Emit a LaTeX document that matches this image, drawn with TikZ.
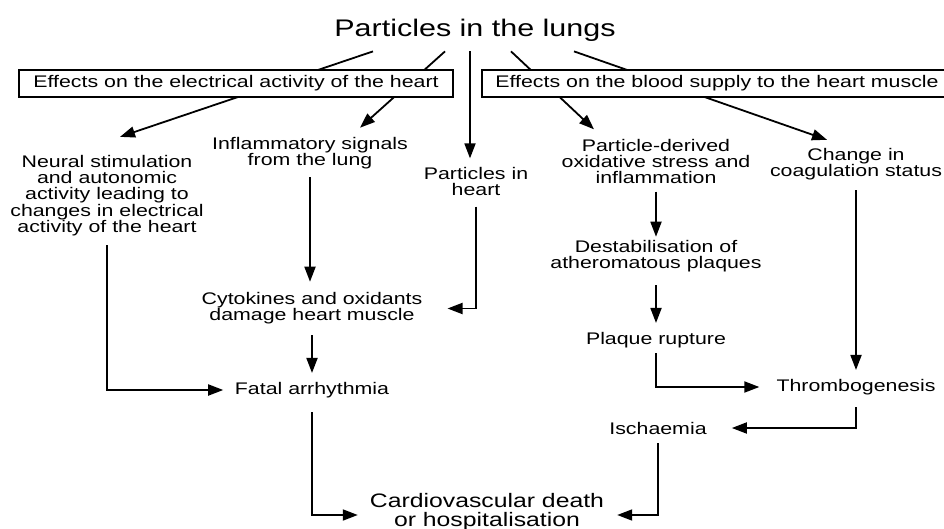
\documentclass[tikz,border=0pt]{standalone}
\usepackage{fontspec}
\setmainfont{Liberation Sans}[FakeStretch=1.27]
\usetikzlibrary{arrows.meta,positioning}
\tikzset{
    txt/.style={align=center, inner sep=0pt, font=\fontsize{16.8}{16.3}\selectfont},
    ttl/.style={inner sep=0pt, font=\fontsize{24}{28}\selectfont},
    hdr/.style={rectangle, draw, line width=1.8pt, fill=white, inner sep=0pt,
                minimum height=27pt, font=\fontsize{16.8}{16.3}\selectfont},
    arr/.style={-{Triangle[length=15pt, width=11pt]}, line width=1.8pt},
}

\begin{document}
\begin{tikzpicture}[x=1pt, y=1pt]
    \useasboundingbox (0,0) rectangle (944,-529);
    % top and first row
    \node[ttl] (lungs) at (475,-30) {Particles in the lungs};
    \node[txt] (neural) at (107,-195.5) {Neural stimulation\\and autonomic\\activity leading to\\changes in electrical\\activity of the heart};
    \node[txt] (inflam) at (310,-153.5) {Inflammatory signals\\from the lung};
    \node[txt] (pheart) at (476,-181.5) {Particles in\\heart};
    \node[txt] (oxid) at (656,-161.5) {Particle-derived\\oxidative stress and\\inflammation};
    \node[txt] (coag) at (856,-164) {Change in\\coagulation status};
    % lower rows
    \node[txt] (destab) at (656,-256.5) {Destabilisation of\\atheromatous plaques};
    \node[txt] (cyto) at (312,-308.5) {Cytokines and oxidants\\damage heart muscle};
    \node[txt] (plaque) at (656,-340) {Plaque rupture};
    \node[txt] (fatal) at (312,-390) {Fatal arrhythmia};
    \node[txt] (thrombo) at (856,-387) {Thrombogenesis};
    \node[txt] (isch) at (658,-428) {Ischaemia};
    \node[txt, font=\fontsize{19.5}{19.5}\selectfont] (cvd) at (487,-512) {Cardiovascular death\\or hospitalisation};

    % arrows out of the lungs (behind the two boxes)
    \draw[arr] ([shift={(-102,-10)}]lungs.south) -- ([shift={(13,18)}]neural.north);
    \draw[arr] ([shift={(-30,-10)}]lungs.south) -- ([shift={(50,9.6)}]inflam.north);
    \draw[arr] ([shift={(-5,-10)}]lungs.south) -- ([shift={(-6,8.6)}]pheart.north);
    \draw[arr] ([shift={(36,-10)}]lungs.south) -- ([shift={(-62,9.5)}]oxid.north);
    \draw[arr] ([shift={(99,-10)}]lungs.south) -- ([shift={(-29,8)}]coag.north);

    \node[hdr, minimum width=434pt] (elec) at (236,-83.5) {Effects on the electrical activity of the heart};
    \node[hdr, minimum width=470pt] (blood) at (717,-83.5) {Effects on the blood supply to the heart muscle};

    % straight arrows
    \draw[arr, shorten <=7.6pt, shorten >=10.6pt] (inflam.south) -- (inflam.south |- cyto.north);
    \draw[arr, shorten <=10.6pt, shorten >=9pt] (cyto.south) -- (fatal.north);
    \draw[arr, shorten <=7.5pt, shorten >=3.6pt] (oxid.south) -- (destab.north);
    \draw[arr, shorten <=12.6pt, shorten >=9pt] (destab.south) -- (plaque.north);
    \draw[arr, shorten <=10pt, shorten >=9pt] (coag.south) -- (thrombo.north);

    % elbow arrows
    \draw[arr, shorten <=10.6pt, shorten >=25pt] (pheart.south) |- (cyto.east);
    \draw[arr, shorten <=9pt, shorten >=11.5pt] (neural.south) |- (fatal.west);
    \draw[arr, shorten <=5pt, shorten >=17pt] (plaque.south) |- (thrombo.west);
    \draw[arr, shorten <=12pt, shorten >=25pt] (thrombo.south) |- (isch.east);
    \draw[arr, shorten <=14pt, shorten >=12pt] (fatal.south) |- ([yshift=-3pt]cvd.west);
    \draw[arr, shorten <=9pt, shorten >=13pt] (isch.south) |- ([yshift=-3pt]cvd.east);
\end{tikzpicture}
\end{document}
